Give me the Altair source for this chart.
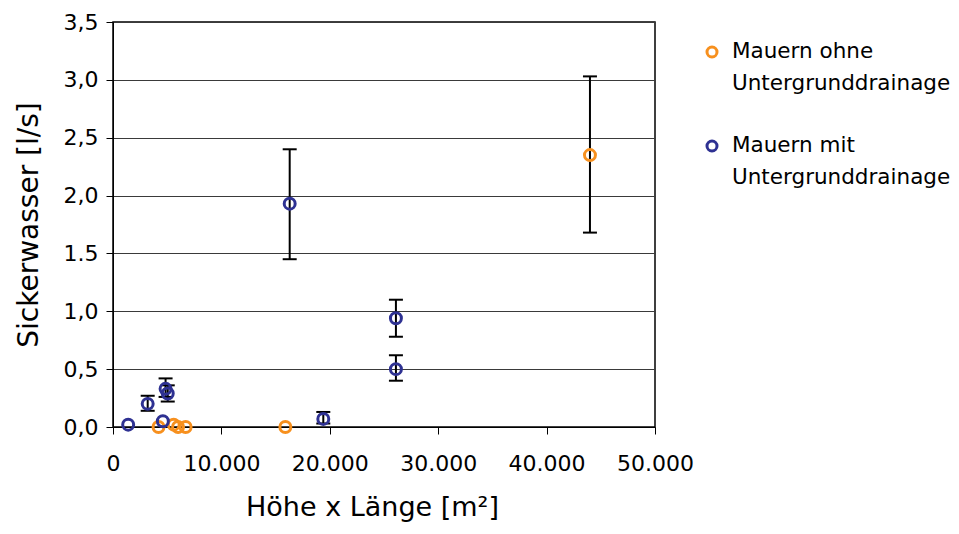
import altair as alt
import pandas as pd

series_names = ["Mauern ohne Untergrunddrainage", "Mauern mit Untergrunddrainage"]
series_colors = ["#F7901E", "#2E3192"]
legend_lines = ["Mauern ohne|Untergrunddrainage", "Mauern mit|Untergrunddrainage"]

# Mauern ohne Untergrunddrainage
ohne_x = [4200, 5600, 6000, 6700, 15900, 44000]
ohne_y = [0.0, 0.02, 0.0, 0.0, 0.0, 2.35]
ohne_lo = [None, None, None, None, None, 1.68]
ohne_hi = [None, None, None, None, None, 3.03]

# Mauern mit Untergrunddrainage
mit_x = [1400, 3200, 4600, 4850, 5050, 16300, 19400, 26100, 26100]
mit_y = [0.02, 0.20, 0.05, 0.33, 0.29, 1.93, 0.07, 0.94, 0.50]
mit_lo = [None, 0.14, None, 0.26, 0.22, 1.45, 0.03, 0.78, 0.40]
mit_hi = [None, 0.27, None, 0.42, 0.36, 2.40, 0.13, 1.10, 0.62]

x_ticks = [0, 10000, 20000, 30000, 40000, 50000]
x_tick_labels = ["0", "10.000", "20.000", "30.000", "40.000", "50.000"]
y_ticks = [0.0, 0.5, 1.0, 1.5, 2.0, 2.5, 3.0, 3.5]
y_tick_labels = ["0,0", "0,5", "1,0", "1.5", "2,0", "2,5", "3,0", "3,5"]

rows = []
for name, xs, ys, los, his in [
    (series_names[0], ohne_x, ohne_y, ohne_lo, ohne_hi),
    (series_names[1], mit_x, mit_y, mit_lo, mit_hi),
]:
    for xv, yv, lo, hi in zip(xs, ys, los, his):
        rows.append({"series": name, "x": xv, "y": yv, "lo": lo, "hi": hi})
df = pd.DataFrame(rows)

x_label_expr = "[" + ",".join(f"'{s}'" for s in x_tick_labels) + "][round(datum.value/10000)]"
y_label_expr = "[" + ",".join(f"'{s}'" for s in y_tick_labels) + "][round(datum.value*2)]"

x_axis = alt.Axis(values=x_ticks, labelExpr=x_label_expr, title="Höhe x Länge [m²]",
                  grid=False, tickSize=7, labelPadding=19, titlePadding=20, labelFlush=False,
                  titleX=259, titleAlign="center",
                  labelFontSize=22, titleFontSize=27, domainColor="black", tickColor="black",
                  labelColor="black", titleColor="black", titleFontWeight="normal")
y_axis = alt.Axis(values=y_ticks, labelExpr=y_label_expr, title="Sickerwasser  [l/s]",
                  grid=True, gridColor="#3a3a3a", gridWidth=1, tickSize=7, labelPadding=8,
                  titlePadding=20, labelFontSize=22, titleFontSize=28, domainColor="black",
                  tickColor="black", labelColor="black", titleColor="black",
                  titleFontWeight="normal", labelFlush=False)

x_scale = alt.Scale(domain=[0, 50000], nice=False)
y_scale = alt.Scale(domain=[0, 3.5], nice=False)
color_scale = alt.Scale(domain=series_names, range=series_colors)

base = alt.Chart(df)
err = base.transform_filter("isValid(datum.lo)")

rules = err.mark_rule(color="black", strokeWidth=2).encode(
    x=alt.X("x:Q", scale=x_scale, axis=x_axis),
    y=alt.Y("lo:Q", scale=y_scale, axis=y_axis),
    y2="hi:Q",
)
cap_lo = err.mark_tick(orient="horizontal", size=14, thickness=2, color="black", opacity=1).encode(
    x=alt.X("x:Q", scale=x_scale, axis=x_axis),
    y=alt.Y("lo:Q", scale=y_scale, axis=y_axis),
)
cap_hi = err.mark_tick(orient="horizontal", size=14, thickness=2, color="black", opacity=1).encode(
    x=alt.X("x:Q", scale=x_scale, axis=x_axis),
    y=alt.Y("hi:Q", scale=y_scale, axis=y_axis),
)
points = base.mark_point(shape="circle", filled=False, size=120, strokeWidth=3, opacity=1).encode(
    x=alt.X("x:Q", scale=x_scale, axis=x_axis),
    y=alt.Y("y:Q", scale=y_scale, axis=y_axis),
    color=alt.Color("series:N", scale=color_scale, legend=None),
)

# manual legend (two entries)
legend_layers = []
legend_pos = [(599, 30, 30), (599, 124, 124)]  # symbol x, symbol y, first text line y
for name, lines, (sx, sy, ty) in zip(series_names, legend_lines, legend_pos):
    ldf = pd.DataFrame({"series": [name], "label": [lines]})
    sym = alt.Chart(ldf).mark_point(shape="circle", filled=False, size=100, strokeWidth=3,
                                    opacity=1).encode(
        x=alt.value(sx), y=alt.value(sy),
        color=alt.Color("series:N", scale=color_scale, legend=None))
    txt = alt.Chart(ldf).mark_text(align="left", baseline="middle", fontSize=21.5, lineBreak="|",
                                   lineHeight=32, color="black").encode(
        x=alt.value(sx + 20), y=alt.value(ty), text="label:N")
    legend_layers += [sym, txt]

chart = alt.layer(rules, cap_lo, cap_hi, points, *legend_layers).properties(
    width=542, height=405,
    autosize=alt.AutoSizeParams(type="none"),
    padding={"left": 105, "top": 14, "right": 295, "bottom": 99},
).configure(font="DejaVu Sans").configure_view(stroke="black", strokeWidth=1.5)

chart.save("out.html", embed_options={"renderer": "svg", "actions": False})
